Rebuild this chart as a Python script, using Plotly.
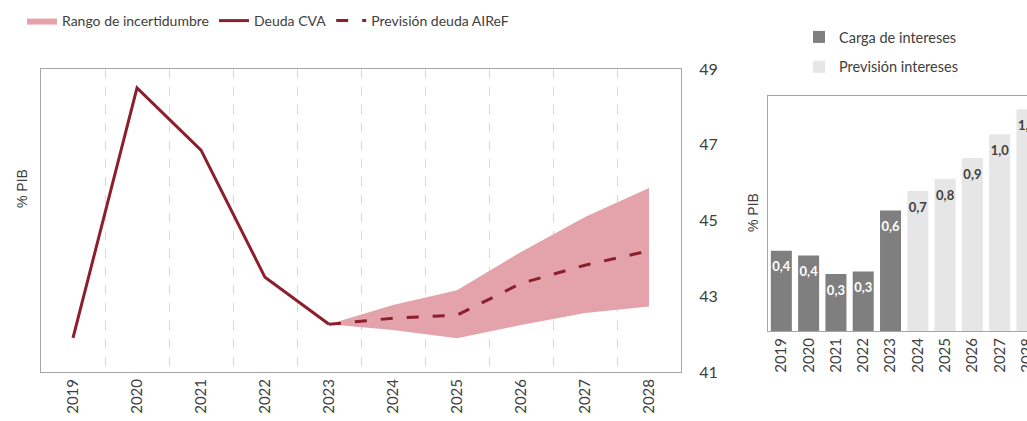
import plotly.graph_objects as go

# palette
LINE_RED   = "#8c1f2e"
BAND_PINK  = "#e4a2aa"
DARK_BAR   = "#7f7f7f"
LIGHT_BAR  = "#e6e6e6"
FRAME      = "#a6a6a6"
GRID_DASH  = "#d9d9d9"
TEXT       = "#404040"
FONT       = "Lato, Open Sans, sans-serif"

# data: deuda (% PIB)
years          = ["2019", "2020", "2021", "2022", "2023", "2024", "2025", "2026", "2027", "2028"]
deuda_cva      = [41.9, 48.5, 46.86, 43.5, 42.26, None, None, None, None, None]
prevision      = [None, None, None, None, 42.26, 42.42, 42.5, 43.34, 43.82, 44.2]
years_band     = ["2023", "2024", "2025", "2026", "2027", "2028"]
banda_inferior = [42.26, 42.11, 41.89, 42.24, 42.56, 42.73]
banda_superior = [42.26, 42.77, 43.16, 44.17, 45.09, 45.86]

# data: intereses (% PIB)
carga_intereses     = [0.40, 0.376, 0.284, 0.296, 0.60, None, None, None, None, None]
prevision_intereses = [None, None, None, None, None, 0.697, 0.758, 0.861, 0.979, 1.104]


def fmt(vals):
    return [f"<b>{v:.1f}</b>".replace(".", ",") if v is not None else "" for v in vals]


fig = go.Figure()

# --- left panel: debt path with uncertainty band
fig.add_trace(go.Scatter(
    x=years_band, y=banda_inferior, mode="lines",
    line=dict(width=0, color=BAND_PINK), showlegend=False, hoverinfo="skip",
))
fig.add_trace(go.Scatter(
    x=years_band, y=banda_superior, mode="lines", fill="tonexty",
    fillcolor=BAND_PINK, line=dict(width=0, color=BAND_PINK),
    name="Rango de incertidumbre",
))
fig.add_trace(go.Scatter(
    x=years, y=deuda_cva, mode="lines", name="Deuda CVA",
    line=dict(color=LINE_RED, width=3),
))
fig.add_trace(go.Scatter(
    x=years, y=prevision, mode="lines", name="Previsión deuda AIReF",
    line=dict(color=LINE_RED, width=3, dash="12px,14px"),
))

# --- right panel: interest burden
fig.add_trace(go.Bar(
    x=years, y=carga_intereses, name="Carga de intereses",
    marker=dict(color=DARK_BAR, line=dict(width=0)), width=0.77,
    xaxis="x2", yaxis="y2", legend="legend2", legendgroup="a",
))
fig.add_trace(go.Bar(
    x=years, y=prevision_intereses, name="Previsión intereses",
    marker=dict(color=LIGHT_BAR, line=dict(width=0)), width=0.77,
    xaxis="x2", yaxis="y2", legend="legend2", legendgroup="b",
))

# value labels just under the top of each bar (invisible marker pushes text down)
for vals, col in ((carga_intereses, "white"), (prevision_intereses, TEXT)):
    fig.add_trace(go.Scatter(
        x=years, y=vals, text=fmt(vals), mode="markers+text",
        textposition="bottom center", marker=dict(size=16, opacity=0),
        textfont=dict(family=FONT, size=13, color=col),
        xaxis="x2", yaxis="y2", showlegend=False, hoverinfo="skip", cliponaxis=False,
    ))

# axis titles
fig.add_annotation(x=22 / 1027, y=1 - 189 / 421, xref="paper", yref="paper", text="% PIB",
                   textangle=-90, showarrow=False, xanchor="center", yanchor="middle",
                   font=dict(family="Liberation Sans, Arial", size=14, color=TEXT))
fig.add_annotation(x=753 / 1027, y=1 - 213 / 421, xref="paper", yref="paper", text="% PIB",
                   textangle=-90, showarrow=False, xanchor="center", yanchor="middle",
                   font=dict(family="Liberation Sans, Arial", size=14, color=TEXT))

fig.update_layout(
    width=1027, height=421,
    paper_bgcolor="white", plot_bgcolor="white",
    margin=dict(l=0, r=0, t=0, b=0),
    font=dict(family=FONT, size=15, color=TEXT),
    barmode="overlay",
    showlegend=True,
    legend=dict(orientation="h", x=22 / 1027, y=1 - 5 / 421, xanchor="left", yanchor="top",
                traceorder="normal", font=dict(size=14, color=TEXT),
                itemwidth=30, bgcolor="rgba(0,0,0,0)"),
    legend2=dict(orientation="v", x=799 / 1027, y=1 - 21 / 421, xanchor="left", yanchor="top",
                 traceorder="grouped", tracegroupgap=8,
                 font=dict(size=14.5, color=TEXT), bgcolor="rgba(0,0,0,0)"),
    xaxis=dict(domain=[41 / 1027, 681 / 1027], type="category", range=[-0.5, 9.5],
               categoryorder="array", categoryarray=years,
               tickson="boundaries", showgrid=True, gridcolor=GRID_DASH, griddash="dash",
               gridwidth=1, ticks="", tickangle=-90, tickfont=dict(size=15),
               showline=True, linecolor=FRAME, mirror=True, automargin=False),
    yaxis=dict(domain=[49 / 421, 352 / 421], range=[41, 49], side="right",
               tickvals=[41, 43, 45, 47, 49], showgrid=False, zeroline=False,
               tickfont=dict(size=16), ticklabelstandoff=14,
               showline=True, linecolor=FRAME, mirror=True, automargin=False),
    xaxis2=dict(domain=[767.7 / 1027, 1.0], type="category", range=[-0.5, 9.0],
                categoryorder="array", categoryarray=years,
                anchor="y2", showgrid=False, ticks="", tickangle=-90, tickfont=dict(size=15),
                showline=True, linecolor=FRAME, mirror=True, automargin=False),
    yaxis2=dict(domain=[90 / 421, 325 / 421], range=[0, 1.17], anchor="x2",
                showgrid=False, zeroline=False, showticklabels=False,
                showline=True, linecolor=FRAME, mirror=True, automargin=False),
)

fig.write_html("out.html", config={"displayModeBar": False},
               post_script="document.body.style.margin='0';")
